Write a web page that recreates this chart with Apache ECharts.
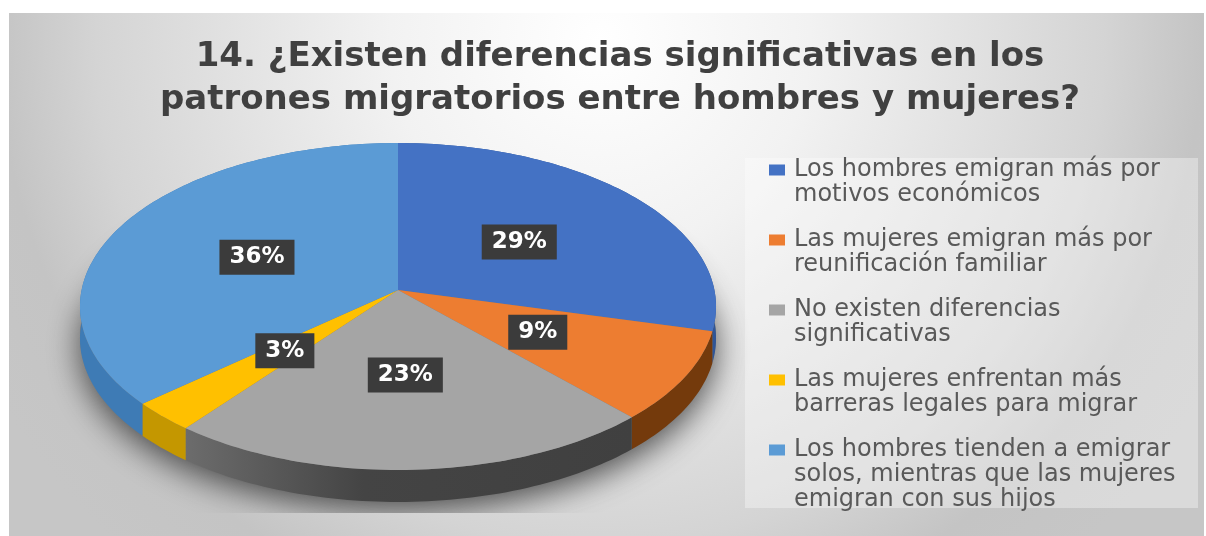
<!DOCTYPE html>
<html>
<head>
<meta charset="utf-8">
<style>html,body{margin:0;padding:0;background:#fff}#c{width:1206px;height:536px}</style>
<script src="https://cdn.jsdelivr.net/npm/echarts@6/dist/echarts.min.js"></script>
</head>
<body>
<div id="c"></div>
<script>
const titleText = "14. ¿Existen diferencias significativas en los\npatrones migratorios entre hombres y mujeres?";
const categories = [
  "Los hombres emigran más por\nmotivos económicos",
  "Las mujeres emigran más por\nreunificación familiar",
  "No existen diferencias\nsignificativas",
  "Las mujeres enfrentan más\nbarreras legales para migrar",
  "Los hombres tienden a emigrar\nsolos, mientras que las mujeres\nemigran con sus hijos"
];
const values = [29, 9, 22.6, 3, 36.4];
const topColors = ["#4472c4", "#ed7d31", "#a5a5a5", "#ffc000", "#5b9bd5"];
const wallColors = ["#2f5597", "#743a0c", "#484848", "#c49700", "#3e7bb5"];

// perspective view of the round face
const CX = 398, CY = 290, A = 316.4, B = 161.8, K = 0.1009, DEPTH = 32;
const total = values.reduce((a, b) => a + b, 0);
const starts = values.map((v, i) => values.slice(0, i).reduce((a, b) => a + b, 0));
function project(pct, r) {
  const t = pct / total * 2 * Math.PI;
  const u = Math.sin(t) * r, v = -Math.cos(t) * r, w = 1 - K * v;
  return [CX + A * u / w, CY + B * v / w];
}
function arc(from, to) {
  const n = Math.max(2, Math.ceil((to - from) * 3)), pts = [];
  for (let i = 0; i <= n; i++) pts.push(project(from + (to - from) * i / n, 1));
  return pts;
}
const series = [];

// soft shadow under the disc
series.push({
  type: 'custom', name: 'shadow', coordinateSystem: 'none', silent: true, z: 1, data: [total],
  renderItem: function () {
    const pts = arc(0, total).map(p => [p[0], p[1] + DEPTH - 2]);
    return { type: 'polygon', shape: { points: pts },
      clipPath: { type: 'rect', shape: { x: 9, y: 200, width: 790, height: 313 } },
      style: { fill: '#777777', shadowBlur: 32, shadowColor: 'rgba(60,60,60,0.9)', shadowOffsetY: 11 } };
  }
});
// side walls
series.push({
  type: 'custom', name: 'wall', coordinateSystem: 'none', silent: true, z: 2,
  data: values,
  renderItem: function (params, api) {
    const i = params.dataIndex, s = starts[i], e = s + api.value(0);
    const top = arc(s, e), bottom = top.slice().reverse().map(p => [p[0], p[1] + DEPTH]);
    let fill = wallColors[i];
    if (i === 2) fill = new echarts.graphic.LinearGradient(0, 0, 1, 0, [
      { offset: 0, color: '#6c6c6c' }, { offset: 0.4, color: '#444444' }, { offset: 1, color: '#404040' }]);
    return { type: 'polygon', shape: { points: top.concat(bottom) }, style: { fill: fill } };
  }
});
// top faces
categories.forEach(function (name, i) {
  series.push({
    type: 'custom', name: name, coordinateSystem: 'none', silent: true, z: 3,
    itemStyle: { color: topColors[i] },
    data: [values[i]],
    renderItem: function (params, api) {
      const s = starts[i], e = s + api.value(0);
      return { type: 'polygon', shape: { points: [[CX, CY]].concat(arc(s, e)) }, style: { fill: topColors[i] } };
    }
  });
});
// data labels
series.push({
  type: 'custom', name: 'labels', coordinateSystem: 'none', silent: true, z: 4,
  data: values,
  renderItem: function (params, api) {
    const i = params.dataIndex, v = api.value(0), p = project(starts[i] + v / 2, 0.5);
    return { type: 'text', x: p[0], y: p[1], style: {
      text: Math.round(v) + '%', align: 'center', verticalAlign: 'middle',
      font: 'bold 23px "DejaVu Sans"', fill: '#ffffff', backgroundColor: '#3b3b3b',
      padding: [6, 10, 6, 10],
      boxShadowBlur: 7, boxShadowColor: 'rgba(0,0,0,0.5)', boxShadowOffsetX: 2, boxShadowOffsetY: 3 } };
  }
});

const chart = echarts.init(document.getElementById('c'), null, { renderer: 'canvas' });
chart.setOption({
  animation: false,
  backgroundColor: '#ffffff',
  title: {
    text: titleText, left: 615, top: 31, textAlign: 'center',
    textStyle: { fontFamily: 'DejaVu Sans', fontWeight: 'bold', fontSize: 34, lineHeight: 43, color: '#404040' }
  },
  legend: {
    show: true, orient: 'vertical', left: 769, top: 107.5, height: 480, padding: 0, selectedMode: false,
    itemWidth: 20, itemHeight: 11, itemGap: -55, icon: 'path://M0 0h16v11H0zM20 0h0z',
    textStyle: { fontFamily: 'DejaVu Sans', fontSize: 24, lineHeight: 25, color: '#595959' },
    // every entry is padded to five lines so its marker sits level with its first text line
    formatter: function (n) {
      const count = n.split('\n').length;
      return '\n\n' + n + '\n'.repeat(3 - count);
    },
    data: categories
  },
  graphic: [
    { type: 'rect', z: -10, silent: true, shape: { x: 9, y: 13, width: 1195, height: 523 },
      style: { fill: new echarts.graphic.RadialGradient(600, 40, 700, [
        { offset: 0, color: '#ffffff' }, { offset: 0.3, color: '#f2f2f2' }, { offset: 0.72, color: '#d4d4d4' }, { offset: 0.86, color: '#c4c4c4' }, { offset: 1, color: '#c6c6c6' }], true) } },
    { type: 'rect', z: -9, silent: true, shape: { x: 745, y: 158, width: 453, height: 350 },
      style: { fill: 'rgba(255,255,255,0.35)' } }
  ],
  series: series
});
</script>
</body>
</html>
